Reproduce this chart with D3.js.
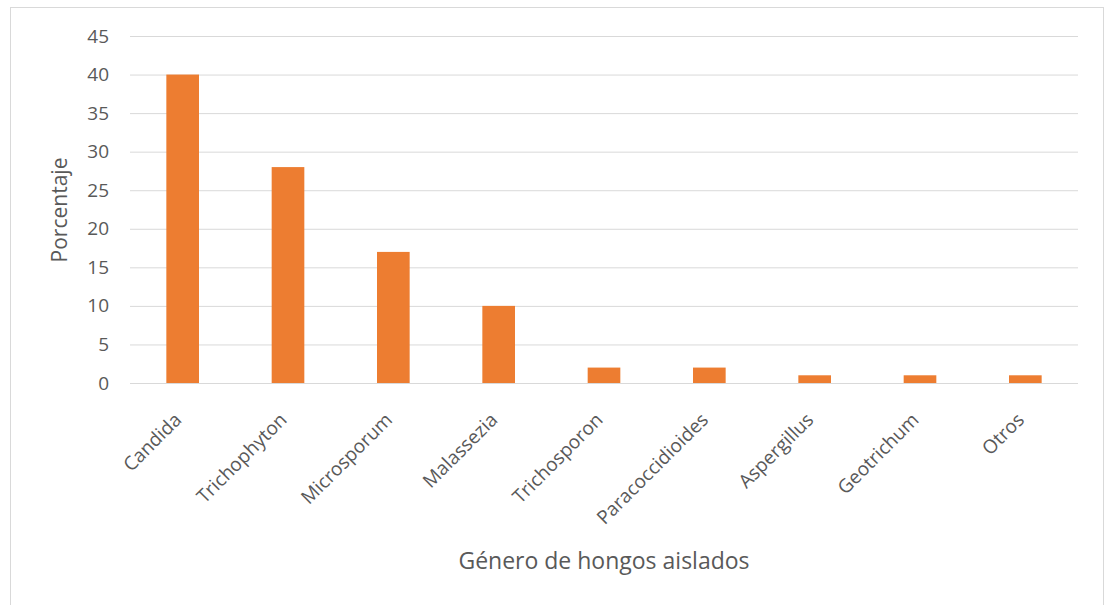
<!DOCTYPE html>
<html><head><meta charset="utf-8">
<script src="https://cdn.jsdelivr.net/npm/d3@7"></script>
<style>body{margin:0;background:#fff}svg{display:block}text{font-family:"Open Sans",sans-serif;fill:#595959}</style>
</head><body>
<script>
const categories=["Candida","Trichophyton","Microsporum","Malassezia","Trichosporon","Paracoccidioides","Aspergillus","Geotrichum","Otros"];
const values=[40,28,17,10,2,2,1,1,1];
const yTicks=[0,5,10,15,20,25,30,35,40,45];
const W=1106,H=605;
const FONT="'Open Sans',sans-serif";
const svg=d3.select("body").append("svg").attr("width",W).attr("height",H);
svg.append("rect").attr("x",10.5).attr("y",7.5).attr("width",1093).attr("height",600).attr("fill","#fff").attr("stroke","#d9d9d9");
const m={l:130,r:1078,t:36,b:383};
const x=d3.scaleBand().domain(categories).range([m.l,m.r]).paddingInner(0.69).paddingOuter(0.345);
const y=d3.scaleLinear().domain([0,45]).range([m.b,m.t]);
svg.append("g").selectAll("line").data(yTicks).join("line")
 .attr("x1",m.l).attr("x2",m.r).attr("y1",d=>y(d)+0.5).attr("y2",d=>y(d)+0.5)
 .attr("stroke","#d9d9d9").attr("stroke-width",1);
const ya=svg.append("g").attr("transform",`translate(${m.l},0)`).call(d3.axisLeft(y).tickValues(yTicks).tickSize(0).tickPadding(21));
ya.select(".domain").remove();
ya.selectAll("text").style("font-size","19px").style("fill","#595959").style("font-family",FONT);
svg.append("g").selectAll("rect").data(values).join("rect")
 .attr("x",(d,i)=>x(categories[i])).attr("width",x.bandwidth())
 .attr("y",d=>y(d)).attr("height",d=>y(0)-y(d)).attr("fill","#ED7D31");
const xa=svg.append("g").attr("transform",`translate(0,${m.b})`).call(d3.axisBottom(x).tickSize(0).tickPadding(0));
xa.select(".domain").remove();
xa.selectAll("text").style("font-size","19px").style("fill","#595959").style("font-family",FONT)
 .attr("text-anchor","end").attr("dy","0").attr("transform","translate(0,38) rotate(-45)");
svg.append("text").attr("x",604).attr("y",569).attr("text-anchor","middle").style("font-size","23px").text("Género de hongos aislados");
svg.append("text").attr("transform","translate(67,210) rotate(-90)").attr("text-anchor","middle").style("font-size","21px").text("Porcentaje");
</script>
</body></html>
